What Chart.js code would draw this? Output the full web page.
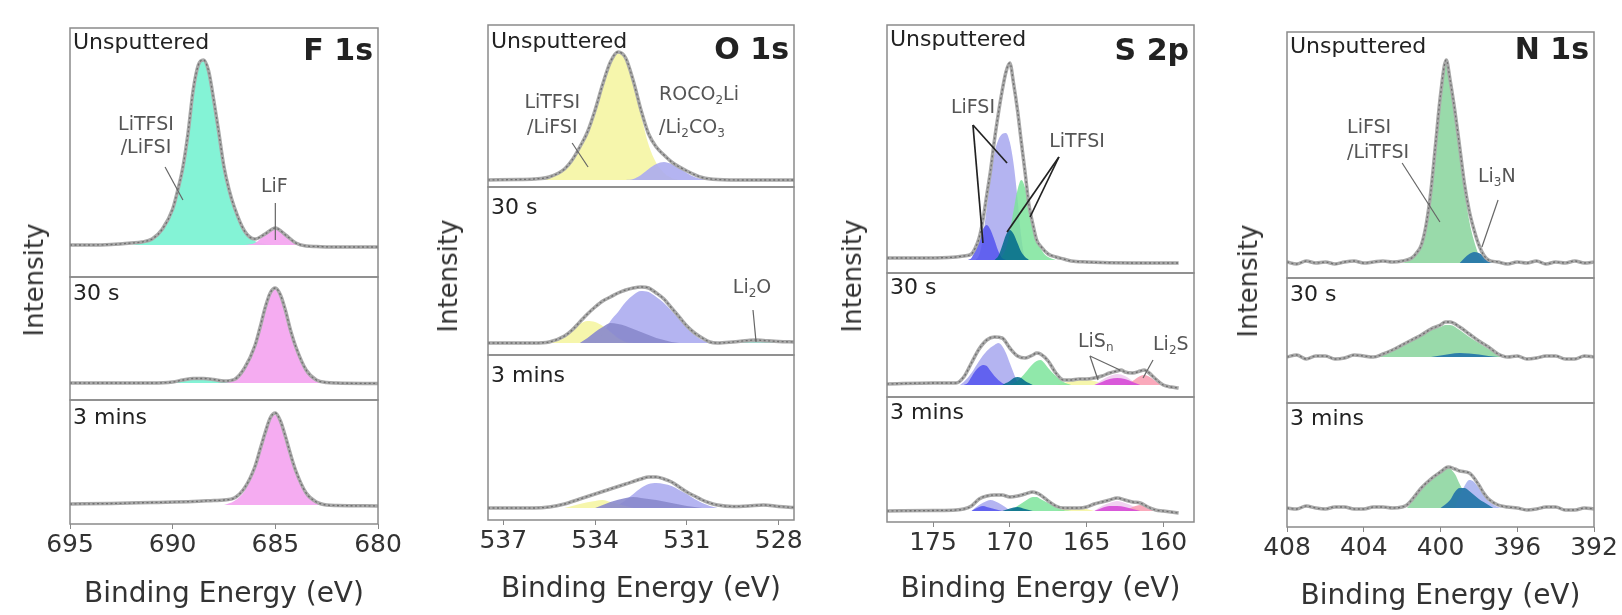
<!DOCTYPE html>
<html lang="en">
<head>
<meta charset="UTF-8">
<title>XPS depth profiles</title>
<script src="https://cdn.jsdelivr.net/npm/chart.js"></script>
<style>
  html, body { margin: 0; padding: 0; background: #fff; }
  #page { position: relative; width: 1622px; height: 615px; overflow: hidden; font-family: "DejaVu Sans", sans-serif; }
  #page canvas { position: absolute; }
  .ylab { position: absolute; font-size: 26px; color: #333; white-space: nowrap;
          transform: translate(-50%, -50%) rotate(-90deg); }
</style>
</head>
<body>
<div id="page"></div>
<script>
  // binding energy tick labels
  const fTicks = [695, 690, 685, 680];
  const oTicks = [537, 534, 531, 528];
  const sTicks = [175, 170, 165, 160];
  const nTicks = [408, 404, 400, 396, 392];

  // every series is a list of [binding energy (eV), intensity above background]

  // F 1s
  const fUnspEnv = [[695,0],[694,0],[693,0.5],[692,2],[691.5,3],[691,6],[690.5,16],[690,36],[689.75,55],[689.5,78],[689.25,112],[689,155],[688.75,180],[688.5,185],[688.25,174],[688,145],[687.75,112],[687.5,78],[687.25,55],[687,38],[686.5,14],[686,6],[685.5,11],[685,17],[684.5,10],[684,2],[683.5,-1],[683,-1.5],[682,-2],[681,-2],[680,-2]];
  const fUnspMain = [[692,0],[691.5,2],[691,5],[690.5,15],[690,35],[689.75,54],[689.5,77],[689.25,111],[689,154],[688.75,179],[688.5,184],[688.25,173],[688,144],[687.75,111],[687.5,77],[687.25,54],[687,37],[686.5,13],[686,4],[685.5,1],[685,0]];
  const fUnspLiF = [[686.5,0],[686,2],[685.5,10],[685,17],[684.5,10],[684,3],[683.5,0]];
  const f30Env = [[695,0],[692,0],[691,0],[690,1],[689.5,3],[689,4.5],[688.5,4.5],[688,3.5],[687.5,2],[687,3.5],[686.5,15],[686,37],[685.75,55],[685.5,75],[685.25,90],[685,95],[684.75,88],[684.5,72],[684.25,52],[684,36],[683.5,13],[683,3],[682.5,0.5],[682,0],[680,-0.5]];
  const f30Main = [[690.5,0],[690,1],[689.5,3],[689,4.5],[688.5,4.5],[688,3.5],[687.5,2],[687,0.5],[686.5,0]];
  const f30LiF = [[687.5,0],[687,3],[686.5,15],[686,37],[685.75,55],[685.5,75],[685.25,90],[685,95],[684.75,88],[684.5,72],[684.25,52],[684,36],[683.5,13],[683,3],[682.5,0]];
  const f3mEnv = [[695,1],[693,1.5],[691,2.5],[689,3.5],[688,4.5],[687.5,5],[687,7],[686.5,17],[686,38],[685.75,55],[685.5,72],[685.25,87],[685,92],[684.75,84],[684.5,68],[684.25,50],[684,34],[683.5,12],[683,3],[682.5,0],[682,-0.5],[680,-1]];
  const f3mLiF = [[687.5,0],[687,4],[686.5,14],[686,36],[685.75,53],[685.5,70],[685.25,85],[685,90],[684.75,82],[684.5,66],[684.25,48],[684,33],[683.5,11],[683,2],[682.5,0]];

  // O 1s
  const oUnspEnv = [[537.5,0],[536.5,0.5],[536,1],[535.5,3],[535,11],[534.75,20],[534.5,33],[534.25,48],[534,70],[533.75,96],[533.5,118],[533.25,128],[533,122],[532.75,99],[532.5,70],[532.25,46],[532,33],[531.75,25],[531.5,18],[531,9],[530.5,2.5],[530,0.5],[529,0],[527.5,0]];
  const oUnspYellow = [[536,0.5],[535.5,3],[535,11],[534.75,20],[534.5,33],[534.25,48],[534,70],[533.75,96],[533.5,118],[533.25,127],[533,121],[532.75,97],[532.5,65],[532.25,35],[532,17],[531.75,7],[531.5,2],[531.25,0]];
  const oUnspBlue = [[533,0],[532.75,1],[532.5,5],[532.25,11],[532,16],[531.75,18],[531.5,16],[531.25,12],[531,7],[530.75,3],[530.5,1],[530.25,0]];
  const o30Env = [[537.5,0],[536,0],[535.5,1],[535,7],[534.75,13],[534.5,21],[534.25,29],[534,36],[533.75,42],[533.5,46],[533.25,50],[533,53],[532.75,55],[532.5,56],[532.25,55],[532,50],[531.75,44],[531.5,35],[531.25,26],[531,17],[530.75,10],[530.5,5],[530.25,1],[530,0],[529.5,1],[529,2.5],[528.75,3],[528.5,2.5],[528,1.5],[527.5,1]];
  const o30Peri = [[534,0],[533.75,9],[533.5,22],[533.25,31],[533,41],[532.75,48],[532.5,52],[532.25,51],[532,46],[531.75,40],[531.5,32],[531.25,24],[531,15],[530.75,8],[530.5,3],[530.25,1],[530,0]];
  const o30Slate = [[534.5,0],[534.25,5],[534,11],[533.75,16],[533.5,20],[533.25,19],[533,17],[532.75,14],[532.5,11],[532.25,8],[532,5],[531.75,3],[531.5,1],[531.25,0]];
  const o30Yellow = [[535.5,0],[535.25,3],[535,8],[534.75,14],[534.5,19],[534.25,22],[534,21],[533.75,17],[533.5,11],[533.25,5],[533,1],[532.75,0]];
  const o30Li2O = [[530,0],[529.5,1],[529,2.5],[528.75,3],[528.5,2.5],[528,1.5],[527.5,0.5]];
  const o3mEnv = [[537.5,0],[536,0],[535.5,1],[535,4],[534.5,9],[534,14],[533.5,19],[533,24],[532.5,29],[532.25,31],[532,31],[531.75,29],[531.5,26],[531.25,21],[531,16],[530.75,12],[530.5,8],[530.25,5],[530,3],[529.5,1.5],[529,2],[528.5,3],[528,1.5],[527.5,0.5]];
  const o3mPeri = [[533.5,0],[533.25,3],[533,8],[532.75,14],[532.5,20],[532.25,24],[532,25],[531.75,24],[531.5,22],[531.25,18],[531,14],[530.75,9],[530.5,5],[530.25,2],[530,0]];
  const o3mSlate = [[534,0],[533.75,3],[533.5,6],[533,10],[532.75,11],[532.5,10],[532,8],[531.5,5],[531,2],[530.5,0]];
  const o3mYellow = [[535,0],[534.5,4],[534,7],[533.75,8],[533.5,6],[533,2],[532.75,0]];

  // S 2p
  const sUnspEnv = [[178,2],[176,2],[174,2.5],[173.5,3],[173,4],[172.5,6],[172.25,12],[172,22],[171.75,40],[171.5,65],[171.25,90],[171,120],[170.75,146],[170.5,169],[170.25,188],[170,197],[169.75,176],[169.5,150],[169.25,118],[169,87],[168.75,55],[168.5,36],[168.25,20],[168,14],[167.5,6],[167,3],[166.5,1],[166,-1],[165,-2],[162,-3],[159,-3]];
  const sUnspPeri = [[172.25,0],[172,5],[171.75,22],[171.5,53],[171.25,82],[171,107],[170.75,120],[170.5,126],[170.25,127],[170,118],[169.75,96],[169.5,62],[169.25,23],[169,2],[168.75,0]];
  const sUnspBlue = [[172.75,0],[172.5,2],[172.25,10],[172,22],[171.75,31],[171.5,35],[171.25,30],[171,20],[170.75,9],[170.5,2],[170.25,0]];
  const sUnspGreen = [[170.75,0],[170.5,4],[170.25,12],[170,28],[169.75,50],[169.5,70],[169.25,80],[169,72],[168.75,53],[168.5,33],[168.25,20],[168,12],[167.75,6],[167.5,3],[167,0]];
  const sUnspTeal = [[171,0],[170.75,4],[170.5,14],[170.25,25],[170,30],[169.75,26],[169.5,17],[169.25,8],[169,3],[168.75,0]];
  const s30Env = [[178,1],[175,2],[173.5,2],[173,8],[172.5,22],[172,36],[171.5,45],[171,48],[170.5,47],[170,37],[169.5,29],[169,27],[168.5,30],[168.25,32],[168,31],[167.5,24],[167,12],[166.5,5],[166,5],[165.5,6],[165,6],[164.5,7],[164,9],[163.5,12],[163,14],[162.75,15],[162.5,13],[162,12],[161.5,14],[161.25,15],[161,13],[160.5,6],[160,0],[159.5,-2],[159,-3]];
  const s30Peri = [[173.25,0],[173,3],[172.5,12],[172,24],[171.5,34],[171,40],[170.75,42],[170.5,39],[170.25,32],[170,22],[169.75,12],[169.5,3],[169.25,0]];
  const s30Blue = [[173,0],[172.75,2],[172.5,8],[172.25,14],[172,18],[171.75,20],[171.5,19],[171.25,14],[171,9],[170.75,5],[170.5,2],[170.25,0]];
  const s30Teal = [[170.5,0],[170,4],[169.75,7],[169.5,8],[169.25,7],[169,4],[168.5,0]];
  const s30Green = [[170,0],[169.5,4],[169,12],[168.5,21],[168.25,24],[168,25],[167.75,22],[167.5,17],[167,9],[166.5,3],[166,0]];
  const s30Yellow = [[167,0],[166.5,2],[166,4],[165.5,5],[165,5],[164.5,4],[164,2],[163.5,0]];
  const s30Lav = [[164.5,0],[164,5],[163.5,9],[163,11],[162.5,9],[162,4],[161.5,0]];
  const s30Mag = [[164.5,0],[164,3],[163.5,6],[163,7],[162.5,6],[162,3],[161.5,0]];
  const s30Rose = [[162.5,0],[162,4],[161.5,9],[161.25,10],[161,9],[160.5,4],[160,0]];
  const s3mEnv = [[178,0],[175,0.5],[173.5,1],[173,2],[172.5,5],[172,12],[171.5,15],[171,16],[170.5,16],[170,14],[169.5,15],[169,17],[168.5,19],[168,16],[167.5,10],[167,5],[166.5,3],[165.5,3],[165,4],[164.5,7],[164,9],[163.5,11],[163,13],[162.5,11],[162,9],[161.5,8],[161,4],[160.5,1],[160,0],[159,-2]];
  const s3mPeri = [[172.5,0],[172,6],[171.5,10],[171.25,11],[171,10],[170.5,6],[170,1],[169.75,0]];
  const s3mBlue = [[172.5,0],[172,4],[171.75,5],[171.5,4],[171,2],[170.5,0]];
  const s3mTeal = [[170.5,0],[170,2.5],[169.5,4],[169,2],[168.5,0]];
  const s3mGreen = [[170,0],[169.5,5],[169,10],[168.5,14],[168.25,14],[168,12],[167.5,8],[167,4],[166.5,1],[166,0]];
  const s3mYellow = [[167,0],[166.5,2],[166,3],[165.5,3],[165,2],[164.5,0]];
  const s3mLav = [[164.5,0],[164,5],[163.5,8],[163,10],[162.5,8],[162,5],[161.5,0]];
  const s3mMag = [[164.5,0],[164,3],[163.5,5],[163,5],[162.5,4],[162,2],[161.5,0]];
  const s3mRose = [[162.5,0],[162,4],[161.5,6],[161,4],[160.5,1],[160,0]];

  // N 1s
  const nUnspEnv = [[408,1],[407.5,-1],[407,2],[406.5,0],[406,1],[405.5,-1],[405,1],[404.5,2],[404,0],[403.5,1],[403,2],[402.5,1],[402,2],[401.5,5],[401.25,10],[401,18],[400.75,38],[400.5,72],[400.25,120],[400,168],[399.7,203],[399.5,183],[399.25,152],[399,116],[398.75,79],[398.5,52],[398.25,33],[398,18],[397.75,8],[397.5,3],[397,1],[396.5,-1],[396,1],[395.5,0],[395,2],[394.5,-1],[394,1],[393.5,0],[393,2],[392.5,0],[392,1]];
  const nUnspGreen = [[402,0],[401.5,4],[401.25,9],[401,17],[400.75,37],[400.5,71],[400.25,119],[400,167],[399.7,202],[399.5,182],[399.25,150],[399,113],[398.75,74],[398.5,42],[398.25,22],[398,8],[397.75,2],[397.5,0]];
  const nUnspLi3N = [[399,0],[398.75,5],[398.5,9],[398.25,11],[398,10],[397.75,7],[397.5,2],[397.25,0]];
  const n30Env = [[408,0],[407.5,2],[407,-2],[406.5,1],[406,1],[405.5,-2],[405,-1],[404.5,2],[404,1],[403.5,0],[403,3],[402.5,7],[402,12],[401.5,17],[401,22],[400.5,28],[400,32],[399.75,35],[399.5,35],[399,30],[398.5,23],[398,16],[397.5,10],[397,3],[396.5,0],[396,1],[395.5,-2],[395,-1],[394.5,1],[394,1],[393.5,-2],[393,-2],[392.5,1],[392,0]];
  const n30Green = [[403.5,0],[403,3],[402.5,7],[402,12],[401.5,17],[401,22],[400.5,27],[400,30],[399.75,32],[399.5,32],[399,27],[398.5,20],[398,14],[397.5,8],[397,3],[396.5,0]];
  const n30Li3N = [[400.5,0],[400,1.5],[399.5,3],[399,4],[398.5,3.5],[398,2.5],[397.5,1],[397,0]];
  const n3mEnv = [[408,0],[407.5,-1],[407,2],[406.5,0],[406,-1],[405.5,1],[405,1],[404.5,-1],[404,-1],[403.5,1],[403,1],[402.5,0],[402,1],[401.75,3],[401.5,8],[401,20],[400.5,29],[400,36],[399.6,41],[399.25,39],[399,37],[398.5,35],[398,23],[397.75,15],[397.5,9],[397,3],[396.5,1],[396,0],[395.5,-2],[395,-1],[394.5,1],[394,1],[393.5,-2],[393,-2],[392.5,0],[392,-1]];
  const n3mGreen = [[401.75,0],[401.5,6],[401,18],[400.5,28],[400,35],[399.6,40],[399.25,34],[399,24],[398.75,15],[398.5,8],[398.25,3],[398,0]];
  const n3mLi3N = [[400,0],[399.5,8],[399.25,16],[399,20],[398.75,20],[398.5,17],[398,9],[397.5,3],[397.25,0]];
  const n3mPeri = [[399.25,0],[399,12],[398.75,22],[398.5,28],[398.25,26],[398,20],[397.75,13],[397.5,7],[397,1],[396.75,0]];

  const FONT = '"DejaVu Sans", sans-serif';
  Chart.defaults.font.family = FONT;

  const C = {
    aqua: 'rgba(125,242,212,0.95)',
    pink: 'rgba(244,168,240,0.95)',
    yellow: 'rgba(246,246,168,0.95)',
    peri: 'rgba(172,172,240,0.9)',
    slate: 'rgba(138,138,205,0.9)',
    blue: 'rgba(85,85,240,0.85)',
    green: 'rgba(125,228,155,0.85)',
    teal: 'rgba(0,105,140,0.85)',
    magenta: 'rgba(215,75,215,0.9)',
    lavender: 'rgba(240,205,240,0.9)',
    rose: 'rgba(250,160,180,0.9)',
    li2o: 'rgba(150,205,195,0.9)',
    nGreen: 'rgba(148,216,165,0.95)',
    nTeal: 'rgba(40,120,170,0.95)',
    nPeri: 'rgba(170,180,240,0.9)'
  };

  // columns: box edges in the page, energy range, where the outer labels go
  const cF = { left: 70, right: 378, min: 680, max: 695, ticks: fTicks, titleY: 595, ylab: [34, 280] };
  const cO = { left: 488, right: 794, min: 527.5, max: 537.5, ticks: oTicks, titleY: 590, ylab: [448, 276] };
  const cS = { left: 887, right: 1194, min: 158, max: 178, ticks: sTicks, titleY: 590, ylab: [852, 276] };
  const cN = { left: 1287, right: 1594, min: 392, max: 408, ticks: nTicks, titleY: 597, ylab: [1248, 281] };

  // fills: first entry is drawn on top
  const panels = [
    { col: cF, top: 28, bottom: 277, yMin: -32, yMax: 217, corner: 'Unsputtered', cornerDy: 15, title: 'F 1s', titleDy: 24,
      env: fUnspEnv, fills: [[fUnspLiF, C.pink], [fUnspMain, C.aqua]],
      labels: [{ x: 691.3, y: 120, t: 'LiTFSI' }, { x: 691.3, y: 97, t: '/LiFSI' }, { x: 685.05, y: 58, t: 'LiF' }],
      lines: [[690.37, 78, 689.5, 45], [685, 42, 685, 5]] },
    { col: cF, top: 277, bottom: 400, yMin: -17, yMax: 106, corner: '30 s', cornerDy: 17,
      env: f30Env, fills: [[f30LiF, C.pink], [f30Main, C.aqua]] },
    { col: cF, top: 400, bottom: 524, yMin: -19, yMax: 105, corner: '3 mins', cornerDy: 18, axis: true,
      env: f3mEnv, fills: [[f3mLiF, C.pink]] },

    { col: cO, top: 25, bottom: 187, yMin: -7, yMax: 155, corner: 'Unsputtered', cornerDy: 17, title: 'O 1s', titleDy: 26,
      env: oUnspEnv, fills: [[oUnspBlue, C.peri], [oUnspYellow, C.yellow]],
      labels: [{ x: 535.4, y: 77, t: 'LiTFSI' }, { x: 535.4, y: 52, t: '/LiFSI' },
               { x: 531.91, y: 85, t: 'ROCO_2Li', align: 'left' }, { x: 531.91, y: 52, t: '/Li_2CO_3', align: 'left' }],
      lines: [[534.75, 37, 534.23, 13]] },
    { col: cO, top: 187, bottom: 355, yMin: -12, yMax: 156, corner: '30 s', cornerDy: 21,
      env: o30Env, fills: [[o30Slate, C.slate], [o30Yellow, C.yellow], [o30Peri, C.peri], [o30Li2O, C.li2o]],
      labels: [{ x: 528.87, y: 55, t: 'Li_2O' }],
      lines: [[528.84, 33, 528.74, 1]] },
    { col: cO, top: 355, bottom: 520, yMin: -12, yMax: 153, corner: '3 mins', cornerDy: 21, axis: true,
      env: o3mEnv, fills: [[o3mSlate, C.slate], [o3mYellow, C.yellow], [o3mPeri, C.peri]] },

    { col: cS, top: 25, bottom: 273, yMin: -13, yMax: 235, corner: 'Unsputtered', cornerDy: 15, title: 'S 2p', titleDy: 27,
      env: sUnspEnv, fills: [[sUnspTeal, C.teal], [sUnspBlue, C.blue], [sUnspGreen, C.green], [sUnspPeri, C.peri]],
      labels: [{ x: 172.4, y: 152, t: 'LiFSI' }, { x: 165.62, y: 118, t: 'LiTFSI' }],
      lines: [[172.4, 135, 171.75, 17], [172.4, 135, 170.18, 97], [166.8, 103, 170.18, 28], [166.8, 103, 168.68, 43]],
      lineColor: '#222', lineWidth: 1.7 },
    { col: cS, top: 273, bottom: 397, yMin: -12, yMax: 112, corner: '30 s', cornerDy: 15,
      env: s30Env, fills: [[s30Teal, C.teal], [s30Blue, C.blue], [s30Green, C.green], [s30Peri, C.peri],
                           [s30Mag, C.magenta], [s30Rose, C.rose], [s30Lav, C.lavender], [s30Yellow, C.yellow]],
      labels: [{ x: 165.56, y: 43, t: 'LiS_n', align: 'left' }, { x: 160.67, y: 40, t: 'Li_2S', align: 'left' }],
      lines: [[164.78, 29, 164.25, 5], [164.78, 29, 162.82, 15], [160.67, 25, 161.32, 7]] },
    { col: cS, top: 397, bottom: 522, yMin: -11, yMax: 114, corner: '3 mins', cornerDy: 16, axis: true,
      env: s3mEnv, fills: [[s3mTeal, C.teal], [s3mBlue, C.blue], [s3mGreen, C.green], [s3mPeri, C.peri],
                           [s3mMag, C.magenta], [s3mRose, C.rose], [s3mLav, C.lavender], [s3mYellow, C.yellow]] },

    { col: cN, top: 32, bottom: 278, yMin: -15, yMax: 231, corner: 'Unsputtered', cornerDy: 15, title: 'N 1s', titleDy: 19,
      env: nUnspEnv, fills: [[nUnspLi3N, C.nTeal], [nUnspGreen, C.nGreen]],
      labels: [{ x: 404.87, y: 135, t: 'LiFSI', align: 'left' }, { x: 404.87, y: 110, t: '/LiTFSI', align: 'left' },
               { x: 398.05, y: 86, t: 'Li_3N', align: 'left' }],
      lines: [[402.0, 100, 400.03, 41], [397.0, 63, 397.84, 16]] },
    { col: cN, top: 278, bottom: 403, yMin: -46, yMax: 79, corner: '30 s', cornerDy: 17,
      env: n30Env, fills: [[n30Li3N, C.nTeal], [n30Green, C.nGreen]] },
    { col: cN, top: 403, bottom: 527, yMin: -19, yMax: 105, corner: '3 mins', cornerDy: 16, axis: true,
      env: n3mEnv, fills: [[n3mLi3N, C.nTeal], [n3mPeri, C.nPeri], [n3mGreen, C.nGreen]] }
  ];

  const page = document.getElementById('page');

  // text with "_x" subscripts
  function drawRich(ctx, text, px, py, align, size, color) {
    const segs = text.split(/(_.)/).filter(s => s).map(s => s[0] === '_' ? { s: s[1], sub: true } : { s, sub: false });
    const subSize = Math.round(size * 0.65);
    let total = 0;
    segs.forEach(g => { ctx.font = (g.sub ? subSize : size) + 'px ' + FONT; g.w = ctx.measureText(g.s).width; total += g.w; });
    let cx = align === 'left' ? px : px - total / 2;
    ctx.fillStyle = color;
    ctx.textAlign = 'left';
    ctx.textBaseline = 'middle';
    segs.forEach(g => {
      ctx.font = (g.sub ? subSize : size) + 'px ' + FONT;
      ctx.fillText(g.s, cx, g.sub ? py + size * 0.3 : py);
      cx += g.w;
    });
  }

  function makeNotes(p) {
    return {
      id: 'notes',
      afterDatasetsDraw(chart) {
        const { ctx, chartArea: a, scales: { x, y } } = chart;
        ctx.save();
        ctx.strokeStyle = '#8a8a8a';
        ctx.lineWidth = 1.5;
        ctx.strokeRect(a.left, a.top, a.right - a.left, a.bottom - a.top);

        ctx.strokeStyle = p.lineColor || '#666';
        ctx.lineWidth = p.lineWidth || 1.2;
        (p.lines || []).forEach(([x1, y1, x2, y2]) => {
          ctx.beginPath();
          ctx.moveTo(x.getPixelForValue(x1), y.getPixelForValue(y1));
          ctx.lineTo(x.getPixelForValue(x2), y.getPixelForValue(y2));
          ctx.stroke();
        });
        (p.labels || []).forEach(l => {
          drawRich(ctx, l.t, x.getPixelForValue(l.x), y.getPixelForValue(l.y), l.align || 'center', 19, '#555');
        });

        ctx.fillStyle = '#222';
        ctx.textBaseline = 'middle';
        ctx.textAlign = 'left';
        ctx.font = '22px ' + FONT;
        ctx.fillText(p.corner, a.left + 3, a.top + p.cornerDy);
        if (p.title) {
          ctx.font = 'bold 30px ' + FONT;
          ctx.textAlign = 'right';
          ctx.fillText(p.title, a.right - 5, a.top + p.titleDy);
        }
        ctx.restore();
      }
    };
  }

  const toXY = pts => pts.map(([x, y]) => ({ x, y }));

  panels.forEach(p => {
    const c = p.col;
    const PADX = 45, PADY = 2;
    const axisH = p.axis ? 615 - p.bottom : 0;
    const cv = document.createElement('canvas');
    cv.width = c.right - c.left + 2 * PADX;
    cv.height = p.bottom - p.top + PADY + (p.axis ? axisH : PADY);
    cv.style.left = (c.left - PADX) + 'px';
    cv.style.top = (p.top - PADY) + 'px';
    page.appendChild(cv);

    const datasets = [
      { data: toXY(p.env), borderColor: '#6f6f6f', borderWidth: 1.3, borderDash: [2, 2.5], fill: false },
      { data: toXY(p.env), borderColor: '#a9a9a9', borderWidth: 3.5, fill: false }
    ];
    p.fills.forEach(([d, col]) => {
      datasets.push({ data: toXY(d), backgroundColor: col, borderColor: 'rgba(0,0,0,0)', borderWidth: 0, fill: 'origin' });
    });

    new Chart(cv, {
      type: 'line',
      data: { datasets },
      options: {
        responsive: false,
        animation: false,
        events: [],
        layout: { padding: { left: PADX, right: PADX, top: PADY, bottom: p.axis ? 0 : PADY } },
        elements: { point: { radius: 0 }, line: { cubicInterpolationMode: 'monotone' } },
        plugins: { legend: { display: false }, tooltip: { enabled: false } },
        scales: {
          x: {
            type: 'linear', min: c.min, max: c.max, reverse: true, display: !!p.axis,
            afterFit: s => { s.height = axisH; },
            afterBuildTicks: s => { s.ticks = c.ticks.map(v => ({ value: v })); },
            grid: { drawOnChartArea: false, drawTicks: true, tickLength: 5, color: '#888' },
            border: { display: false },
            ticks: { autoSkip: false, maxRotation: 0, padding: 1, color: '#333', font: { size: 25 }, callback: v => String(v) },
            title: { display: true, text: 'Binding Energy (eV)', color: '#333', font: { size: 28 },
                     padding: { top: 0, bottom: 615 - c.titleY - 16.8 } }
          },
          y: { min: p.yMin, max: p.yMax, display: false }
        }
      },
      plugins: [makeNotes(p)]
    });
  });

  [cF, cO, cS, cN].forEach(c => {
    const d = document.createElement('div');
    d.className = 'ylab';
    d.textContent = 'Intensity';
    d.style.left = c.ylab[0] + 'px';
    d.style.top = c.ylab[1] + 'px';
    page.appendChild(d);
  });
</script>
</body>
</html>
